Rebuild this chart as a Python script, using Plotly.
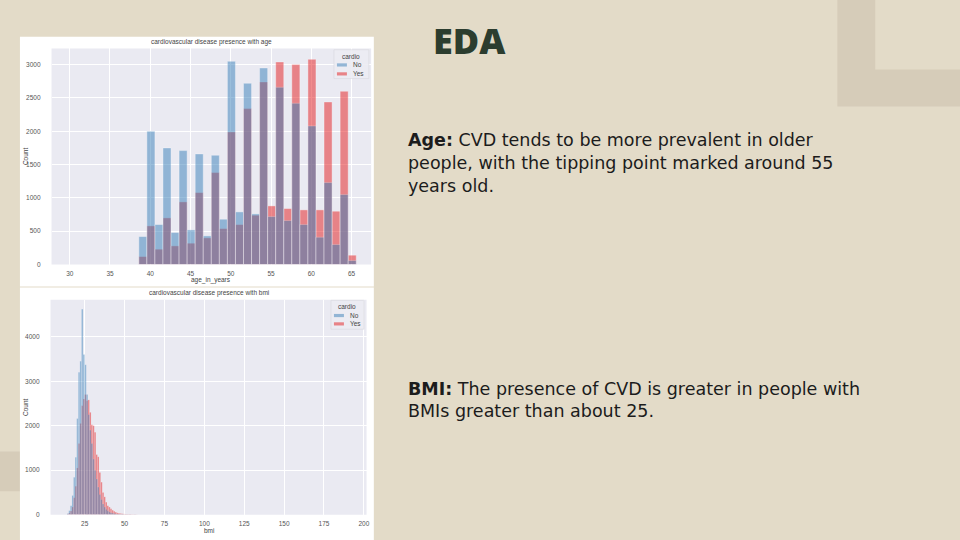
import plotly.graph_objects as go

W, H = 960, 540

# ---------------- data ----------------
# age histogram (bins ~1 year wide), counts per cardio class
age_years = [39, 40, 41, 42, 43, 44, 45, 46, 47, 48, 49, 50, 51, 52,
             53, 54, 55, 56, 57, 58, 59, 60, 61, 62, 63, 64, 65]
age_no = [420, 2000, 600, 1750, 480, 1710, 520, 1660, 430, 1640, 680, 3050, 790, 2720,
          760, 2950, 720, 2660, 660, 2420, 600, 2080, 410, 1230, 300, 1050, 60]
age_yes = [120, 580, 230, 700, 280, 940, 320, 1080, 400, 1380, 540, 1990, 600, 2340,
           740, 2740, 880, 3040, 840, 3000, 820, 3080, 820, 2440, 800, 2600, 140]
age_ticks = [30, 35, 40, 45, 50, 55, 60, 65]
age_yticks = [0, 500, 1000, 1500, 2000, 2500, 3000]

# bmi histogram (bin left edges, 1 unit wide)
bmi_left = [14, 15, 16, 17, 18, 19, 20, 21, 22, 23, 24, 25, 26, 27, 28, 29, 30, 31,
            32, 33, 34, 35, 36, 37, 38, 39, 40, 41, 42, 43, 44, 45, 46, 47, 48, 49,
            50, 51, 52, 53, 54, 55, 56, 57]
bmi_no = [25, 90, 200, 430, 840, 1290, 2160, 3200, 3450, 4620, 3600, 3370, 2700, 2250,
          1900, 1600, 1250, 1000, 800, 620, 450, 340, 240, 170, 120, 85, 60, 45,
          32, 25, 18, 14, 11, 8, 6, 5, 4, 3, 3, 2, 2, 1, 1, 1]
bmi_yes = [10, 35, 80, 170, 380, 640, 1050, 1600, 2050, 2450, 2600, 2700, 2560, 2580,
           2300, 2020, 2000, 1850, 1350, 1300, 950, 730, 500, 400, 280, 200, 170, 130,
           100, 75, 55, 40, 32, 25, 20, 16, 13, 11, 9, 8, 7, 6, 5, 4]
bmi_ticks = [25, 50, 75, 100, 125, 150, 175, 200]
bmi_yticks = [0, 1000, 2000, 3000, 4000]

# ---------------- styling ----------------
BG = "#e3dbc8"
FRAME = "#d6ccb9"
AX_BG = "#eaeaf2"
RED = "#e41a1c"
BLUE = "#377eb8"
TXT = "#555555"
SMALL = 6.5
FONT = "Liberation Sans"


def fx(px):
    return px / W


def fy(py):
    return 1 - py / H


fig = go.Figure()

# age chart: Yes drawn first, No on top (seaborn layering)
fig.add_trace(go.Bar(x=age_years, y=age_yes, width=0.999, offset=-0.42,
                     marker=dict(color=RED, line=dict(color="white", width=0.4)),
                     opacity=0.5, name="Yes", showlegend=False, xaxis="x", yaxis="y"))
fig.add_trace(go.Bar(x=age_years, y=age_no, width=0.999, offset=-0.42,
                     marker=dict(color=BLUE, line=dict(color="white", width=0.4)),
                     opacity=0.5, name="No", showlegend=False, xaxis="x", yaxis="y"))
# bmi chart
fig.add_trace(go.Bar(x=bmi_left, y=bmi_yes, width=1.0, offset=0,
                     marker=dict(color=RED, line=dict(color="white", width=0.15)),
                     opacity=0.5, name="Yes", showlegend=False, xaxis="x2", yaxis="y2"))
fig.add_trace(go.Bar(x=bmi_left, y=bmi_no, width=1.0, offset=0,
                     marker=dict(color=BLUE, line=dict(color="white", width=0.15)),
                     opacity=0.5, name="No", showlegend=False, xaxis="x2", yaxis="y2"))

axis_common = dict(showgrid=True, gridcolor="white", gridwidth=1, zeroline=False,
                   showline=False, ticks="", fixedrange=True,
                   tickfont=dict(size=SMALL, color=TXT, family=FONT))

# plot area pixel boxes
A = dict(l=51.7, r=372.3, t=48.7, b=266.0)
B = dict(l=50.7, r=367.7, t=301.3, b=517.5)

shapes = [
    # decorative frame top right
    dict(type="rect", xref="paper", yref="paper", x0=fx(840), x1=fx(970), y0=fy(107), y1=fy(-5),
         fillcolor=FRAME, line=dict(width=0), layer="below"),
    dict(type="rect", xref="paper", yref="paper", x0=fx(878), x1=fx(970), y0=fy(70), y1=fy(-5),
         fillcolor=BG, line=dict(width=0), layer="below"),
    # decorative block bottom left
    dict(type="rect", xref="paper", yref="paper", x0=fx(-5), x1=fx(20), y0=fy(494), y1=fy(454),
         fillcolor=FRAME, line=dict(width=0), layer="below"),
    # white image panels
    dict(type="rect", xref="paper", yref="paper", x0=fx(20), x1=fx(375), y0=fy(288), y1=fy(37),
         fillcolor="white", line=dict(width=0), layer="below"),
    dict(type="rect", xref="paper", yref="paper", x0=fx(20), x1=fx(375), y0=fy(545), y1=fy(289),
         fillcolor="white", line=dict(width=0), layer="below"),
    # axes backgrounds
    dict(type="rect", xref="paper", yref="paper", x0=fx(A["l"]), x1=fx(A["r"]), y0=fy(A["b"]), y1=fy(A["t"]),
         fillcolor=AX_BG, line=dict(width=0), layer="below"),
    dict(type="rect", xref="paper", yref="paper", x0=fx(B["l"]), x1=fx(B["r"]), y0=fy(B["b"]), y1=fy(B["t"]),
         fillcolor=AX_BG, line=dict(width=0), layer="below"),
]

annotations = []


def ann(text, x, y, size=SMALL, color=TXT, xanchor="center", yanchor="middle", family=FONT,
        angle=0, weight=None):
    f = dict(size=size, color=color, family=family)
    if weight is not None:
        f["weight"] = weight
    annotations.append(dict(text=text, x=fx(x), y=fy(y), xref="paper", yref="paper",
                            showarrow=False, xanchor=xanchor, yanchor=yanchor,
                            font=f, textangle=angle))


# chart titles and axis titles
ann("cardiovascular disease presence with age", (A["l"] + A["r"]) / 2, 42.7, color="#444")
ann("age_in_years", (A["l"] + A["r"]) / 2, 282, color="#444")
ann("Count", 25.7, (A["t"] + A["b"]) / 2, color="#444", angle=-90)
ann("cardiovascular disease presence with bmi", (B["l"] + B["r"]) / 2, 294.5, color="#444")
ann("bmi", (B["l"] + B["r"]) / 2, 533.5, color="#444")
ann("Count", 25.0, (B["t"] + B["b"]) / 2, color="#444", angle=-90)


# legends (seaborn style)
def legend(box, title_y, rows):
    x0, x1, y0, y1 = box
    shapes.append(dict(type="rect", xref="paper", yref="paper", x0=fx(x0), x1=fx(x1), y0=fy(y1), y1=fy(y0),
                       fillcolor="rgba(236,236,243,0.9)", line=dict(color="#d6d6de", width=0.6)))
    ann("cardio", (x0 + x1) / 2, title_y, color="#444")
    for label, color, yy in rows:
        shapes.append(dict(type="rect", xref="paper", yref="paper", x0=fx(x0 + 3), x1=fx(x0 + 13),
                           y0=fy(yy + 1.6), y1=fy(yy - 1.6), fillcolor=color, line=dict(width=0)))
        ann(label, x0 + 17, yy, color="#444", xanchor="left")


legend((335, 370, 50, 79), 56.7, [("No", "rgba(55,126,184,0.5)", 65.3), ("Yes", "rgba(228,26,28,0.5)", 74.3)])
legend((332, 365, 302, 331), 308.0, [("No", "rgba(55,126,184,0.5)", 317.3), ("Yes", "rgba(228,26,28,0.5)", 325.7)])

# slide texts
DARK = "#2c3d2f"
BODY = "#1c1c1c"
BODY_FONT = "DejaVu Sans"
ann("EDA", 432, 41, size=36, color=DARK, xanchor="left", family="Open Sans", weight=800)
age_lines = ["<b>Age:</b> CVD tends to be more prevalent in older",
             "people, with the tipping point marked around 55",
             "years old."]
for i, t in enumerate(age_lines):
    ann(t, 407, 141 + i * 22.8, size=17.5, color=BODY, xanchor="left", family=BODY_FONT)
bmi_lines = ["<b>BMI:</b> The presence of CVD is greater in people with",
             "BMIs greater than about 25."]
for i, t in enumerate(bmi_lines):
    ann(t, 407, 391 + i * 21.8, size=17.5, color=BODY, xanchor="left", family=BODY_FONT)

fig.update_layout(
    width=W, height=H,
    margin=dict(l=0, r=0, t=0, b=0),
    paper_bgcolor=BG,
    plot_bgcolor="rgba(0,0,0,0)",
    barmode="overlay",
    showlegend=False,
    xaxis=dict(axis_common, domain=[fx(A["l"]), fx(A["r"])], range=[27.74, 67.43],
               tickvals=age_ticks, anchor="y", ticklabelstandoff=4),
    yaxis=dict(axis_common, domain=[fy(A["b"]), fy(A["t"])], range=[0, 3243],
               tickvals=age_yticks, anchor="x", ticklabelstandoff=10),
    xaxis2=dict(axis_common, domain=[fx(B["l"]), fx(B["r"])], range=[3.6, 201.7],
                tickvals=bmi_ticks, anchor="y2", ticklabelstandoff=4),
    yaxis2=dict(axis_common, domain=[fy(B["b"]), fy(B["t"])], range=[0, 4835],
                tickvals=bmi_yticks, anchor="x2", ticklabelstandoff=10),
    shapes=shapes,
    annotations=annotations,
)

fig.write_html("out.html", config={"displayModeBar": False},
               post_script="document.body.style.margin='0px';document.body.style.overflow='hidden';")
